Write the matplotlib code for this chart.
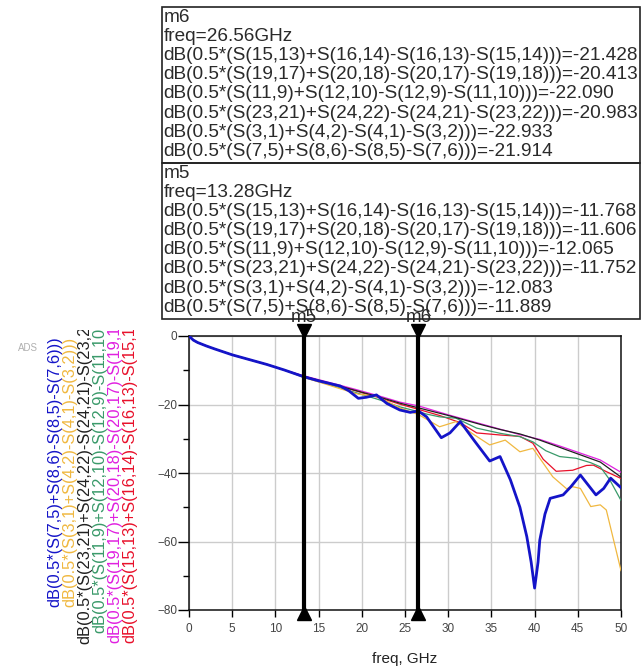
import matplotlib
matplotlib.use('Agg')
import matplotlib.pyplot as plt
from matplotlib.patches import Rectangle
from matplotlib.transforms import offset_copy

plt.rcParams['font.family'] = ['Liberation Sans', 'DejaVu Sans']

W, H = 643, 668

# shared low-frequency part (all traces sit on top of each other here)
f_low = [0, 0.5, 1, 2, 3, 5, 7, 9, 11]
db_low = [0, -1.2, -1.9, -2.9, -3.8, -5.5, -6.9, -8.3, -9.9]

# per trace, from the m5 marker up to 50 GHz
f_red = [13.28, 16, 19, 22, 24.4, 26.56, 29, 31.4, 33.3, 36, 38.3, 39.8, 41, 42.5, 44.4, 46, 46.8, 48.3, 50]
db_red = [-11.77, -13.6, -15.8, -18.0, -19.9, -21.43, -23.2, -25.3, -28.3, -28.9, -29.3, -31.3, -36.0, -39.5, -39.2, -37.8, -37.7, -39.6, -41.6]

f_mag = [13.28, 16, 19, 22, 24.4, 26.56, 30, 34, 36, 38.3, 40.6, 43, 45.3, 47.6, 50]
db_mag = [-11.61, -13.4, -15.4, -17.5, -19.3, -20.41, -23.0, -25.8, -27.2, -28.8, -30.2, -32.2, -34.2, -36.2, -39.8]

f_grn = [13.28, 16, 19, 22, 24.4, 26.56, 27.5, 29, 30.9, 33.3, 36, 38.3, 39.8, 41.3, 42.9, 44.8, 46.5, 47.6, 48.7, 50]
db_grn = [-12.07, -14.0, -16.3, -18.6, -20.7, -22.09, -22.8, -23.6, -24.0, -26.9, -28.4, -29.4, -30.9, -33.5, -35.2, -35.7, -37.0, -38.2, -42.0, -48.0]

f_blk = [13.28, 16, 19, 22, 24.4, 26.56, 30, 32, 34, 36, 38.3, 40.6, 43, 45.3, 47.6, 50]
db_blk = [-11.75, -13.6, -15.7, -17.8, -19.6, -20.98, -23.2, -24.6, -26.0, -27.3, -28.6, -30.4, -32.6, -34.7, -36.8, -41.2]

f_yel = [13.28, 16, 17.5, 19.6, 21.7, 23, 24.4, 26.56, 29, 30.9, 32.8, 34.8, 36.6, 38.3, 39.8, 42.1, 43.7, 44.4, 45.3, 46.5, 47.6, 48.3, 50]
db_yel = [-12.08, -14.2, -15.4, -17.0, -17.6, -19.2, -21.0, -22.93, -26.5, -25.0, -28.5, -31.8, -30.4, -33.8, -32.8, -41.1, -44.6, -44.0, -44.5, -49.8, -49.3, -50.8, -68.5]

f_blu = [13.28, 15, 17.5, 18.5, 19.6, 20.5, 21.7, 22.9, 24.4, 25.6, 26.56, 27.5, 29.2, 30.2, 31.4, 33, 34.8, 36, 37.2, 38.3,
         39.1, 39.6, 40.0, 40.4, 40.6, 41.2, 41.8, 43.3, 44.2, 45.3, 46.2, 47.1, 48, 48.8, 50]
db_blu = [-11.89, -13.1, -14.6, -16.0, -18.2, -17.9, -17.2, -19.7, -21.6, -22.3, -21.91, -23.6, -29.7, -28.3, -25.0, -30.5, -36.5, -35.2, -42.0, -50.0,
          -58.6, -66.0, -73.6, -66.0, -59.6, -52.0, -47.4, -46.4, -44.0, -40.6, -43.5, -46.4, -44.5, -41.5, -44.3]

names = ['dB(0.5*(S(15,13)+S(16,14)-S(16,13)-S(15,14)))',
         'dB(0.5*(S(19,17)+S(20,18)-S(20,17)-S(19,18)))',
         'dB(0.5*(S(11,9)+S(12,10)-S(12,9)-S(11,10)))',
         'dB(0.5*(S(23,21)+S(24,22)-S(24,21)-S(23,22)))',
         'dB(0.5*(S(3,1)+S(4,2)-S(4,1)-S(3,2)))',
         'dB(0.5*(S(7,5)+S(8,6)-S(8,5)-S(7,6)))']
freqs = [f_red, f_mag, f_grn, f_blk, f_yel, f_blu]
dbs = [db_red, db_mag, db_grn, db_blk, db_yel, db_blu]
colors = ['#e8102a', '#e020e0', '#3a9a6a', '#202020', '#f0b840', '#1414c8']
widths = [0.9, 0.9, 0.9, 0.9, 0.9, 2.0]

markers = ['m6', 'm5']
marker_freq = [26.56, 13.28]
marker_vals = [[-21.428, -20.413, -22.090, -20.983, -22.933, -21.914],
               [-11.768, -11.606, -12.065, -11.752, -12.083, -11.889]]


def fx(x):
    return x / W


def fy(y):
    return 1 - y / H


fig = plt.figure(figsize=(W / 100, H / 100), dpi=100)

ax = fig.add_axes([fx(189), fy(610), (621 - 189) / W, (610 - 336) / H])
for f, d, c, lw in zip(freqs, dbs, colors, widths):
    ax.plot(f_low + f, db_low + d, color=c, lw=lw, zorder=3)

ax.set_xlim(0, 50)
ax.set_ylim(-80, 0)
ax.set_xticks(range(0, 51, 5))
ax.set_yticks(range(-80, 1, 20))
ax.set_yticks(range(-70, 0, 20), minor=True)
ax.grid(True, color='#cccccc', lw=1)
ax.tick_params(axis='x', length=5, width=1, labelsize=8.5, labelcolor='#444', pad=4)
ax.tick_params(axis='y', length=8, width=1, labelsize=8.5, labelcolor='#444', pad=0.5)
ax.tick_params(axis='y', which='minor', length=4, width=1)
for s in ax.spines.values():
    s.set_color('#111')
    s.set_linewidth(1.1)

# marker lines with triangles and names
top_tr = offset_copy(ax.transData, fig=fig, y=5, units='dots')
bot_tr = offset_copy(ax.transData, fig=fig, y=-3, units='dots')
lab_tr = offset_copy(ax.transData, fig=fig, y=18, units='dots')
for m, f in zip(markers, marker_freq):
    ax.axvline(f, color='k', lw=3, zorder=4)
    ax.plot([f], [0], marker='v', ms=10, color='k', clip_on=False, transform=top_tr, zorder=5)
    ax.plot([f], [-80], marker='^', ms=10, color='k', clip_on=False, transform=bot_tr, zorder=5)
    ax.text(f, 0, m, transform=lab_tr, ha='center', va='center', fontsize=13.5,
            color='#2a2a2a', zorder=6, clip_on=False)

fig.text(fx(405), fy(659), 'freq, GHz', ha='center', va='center', fontsize=11, color='#222')
fig.text(fx(28), fy(348), 'ADS', ha='center', va='center', fontsize=7, color='#b0b0b0')

# rotated trace names on the left, clipped at the top
lax = fig.add_axes([0, 0, fx(150), fy(330)])
lax.axis('off')
col_x = [130, 115, 100, 85, 70, 55]
for n, c, x in zip(names, colors, col_x):
    lax.text(x / 150, 1 - (472 - 330) / (H - 330), n, rotation=90, ha='center', va='center',
             fontsize=11.8, color=c, clip_on=True, transform=lax.transAxes)

# marker readout boxes
box_top = [7, 163]
for m, f, vals, top in zip(markers, marker_freq, marker_vals, box_top):
    fig.patches.append(Rectangle((fx(162), fy(top + 156)), (640 - 162) / W, 156 / H,
                                 transform=fig.transFigure, fill=False, ec='#222', lw=1.2))
    lines = [m, 'freq=%.2fGHz' % f] + ['%s=%.3f' % (n, v) for n, v in zip(names, vals)]
    for i, t in enumerate(lines):
        fig.text(fx(163.5), fy(top + 10.5 + 19.1 * i), t, ha='left', va='center',
                 fontsize=13.7, color='#2a2a2a')

fig.savefig('out.png', dpi=100)
